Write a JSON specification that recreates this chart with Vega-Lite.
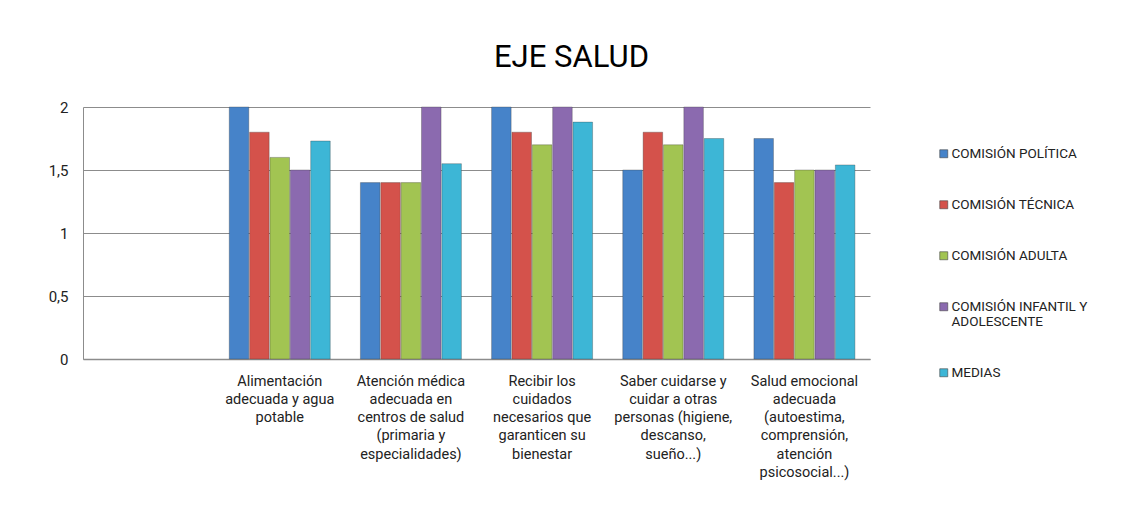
{
  "$schema": "https://vega.github.io/schema/vega-lite/v6.json",
  "width": 787,
  "height": 252,
  "autosize": {"type": "none"},
  "padding": {"left": 83, "top": 107, "right": 256, "bottom": 168},
  "background": "white",
  "title": {
    "text": "EJE SALUD",
    "font": "Roboto",
    "fontSize": 31,
    "fontWeight": "normal",
    "color": "#000000",
    "anchor": "middle",
    "dx": 95,
    "offset": 26
  },
  "data": {
    "values": [
      {"categoria": "Alimentación adecuada y agua potable", "serie": "COMISIÓN POLÍTICA", "valor": 2},
      {"categoria": "Alimentación adecuada y agua potable", "serie": "COMISIÓN TÉCNICA", "valor": 1.8},
      {"categoria": "Alimentación adecuada y agua potable", "serie": "COMISIÓN ADULTA", "valor": 1.6},
      {"categoria": "Alimentación adecuada y agua potable", "serie": "COMISIÓN INFANTIL Y ADOLESCENTE", "valor": 1.5},
      {"categoria": "Alimentación adecuada y agua potable", "serie": "MEDIAS", "valor": 1.73},
      {"categoria": "Atención médica adecuada en centros de salud (primaria y especialidades)", "serie": "COMISIÓN POLÍTICA", "valor": 1.4},
      {"categoria": "Atención médica adecuada en centros de salud (primaria y especialidades)", "serie": "COMISIÓN TÉCNICA", "valor": 1.4},
      {"categoria": "Atención médica adecuada en centros de salud (primaria y especialidades)", "serie": "COMISIÓN ADULTA", "valor": 1.4},
      {"categoria": "Atención médica adecuada en centros de salud (primaria y especialidades)", "serie": "COMISIÓN INFANTIL Y ADOLESCENTE", "valor": 2},
      {"categoria": "Atención médica adecuada en centros de salud (primaria y especialidades)", "serie": "MEDIAS", "valor": 1.55},
      {"categoria": "Recibir los cuidados necesarios que garanticen su bienestar", "serie": "COMISIÓN POLÍTICA", "valor": 2},
      {"categoria": "Recibir los cuidados necesarios que garanticen su bienestar", "serie": "COMISIÓN TÉCNICA", "valor": 1.8},
      {"categoria": "Recibir los cuidados necesarios que garanticen su bienestar", "serie": "COMISIÓN ADULTA", "valor": 1.7},
      {"categoria": "Recibir los cuidados necesarios que garanticen su bienestar", "serie": "COMISIÓN INFANTIL Y ADOLESCENTE", "valor": 2},
      {"categoria": "Recibir los cuidados necesarios que garanticen su bienestar", "serie": "MEDIAS", "valor": 1.88},
      {"categoria": "Saber cuidarse y cuidar a otras personas (higiene, descanso, sueño...)", "serie": "COMISIÓN POLÍTICA", "valor": 1.5},
      {"categoria": "Saber cuidarse y cuidar a otras personas (higiene, descanso, sueño...)", "serie": "COMISIÓN TÉCNICA", "valor": 1.8},
      {"categoria": "Saber cuidarse y cuidar a otras personas (higiene, descanso, sueño...)", "serie": "COMISIÓN ADULTA", "valor": 1.7},
      {"categoria": "Saber cuidarse y cuidar a otras personas (higiene, descanso, sueño...)", "serie": "COMISIÓN INFANTIL Y ADOLESCENTE", "valor": 2},
      {"categoria": "Saber cuidarse y cuidar a otras personas (higiene, descanso, sueño...)", "serie": "MEDIAS", "valor": 1.75},
      {"categoria": "Salud emocional adecuada (autoestima, comprensión, atención psicosocial...)", "serie": "COMISIÓN POLÍTICA", "valor": 1.75},
      {"categoria": "Salud emocional adecuada (autoestima, comprensión, atención psicosocial...)", "serie": "COMISIÓN TÉCNICA", "valor": 1.4},
      {"categoria": "Salud emocional adecuada (autoestima, comprensión, atención psicosocial...)", "serie": "COMISIÓN ADULTA", "valor": 1.5},
      {"categoria": "Salud emocional adecuada (autoestima, comprensión, atención psicosocial...)", "serie": "COMISIÓN INFANTIL Y ADOLESCENTE", "valor": 1.5},
      {"categoria": "Salud emocional adecuada (autoestima, comprensión, atención psicosocial...)", "serie": "MEDIAS", "valor": 1.54}
    ]
  },
  "mark": {"type": "bar", "stroke": "#3a3a3a", "strokeWidth": 0.6, "strokeOpacity": 0.55},
  "encoding": {
    "x": {
      "field": "categoria",
      "type": "nominal",
      "scale": {
        "domain": ["", "Alimentación adecuada y agua potable", "Atención médica adecuada en centros de salud (primaria y especialidades)", "Recibir los cuidados necesarios que garanticen su bienestar", "Saber cuidarse y cuidar a otras personas (higiene, descanso, sueño...)", "Salud emocional adecuada (autoestima, comprensión, atención psicosocial...)"],
        "paddingInner": 0.23,
        "paddingOuter": 0.115
      },
      "axis": {
        "title": null,
        "labelAngle": 0,
        "ticks": false,
        "grid": false,
        "domain": true,
        "domainColor": "#8c8c8c",
        "domainWidth": 1.5,
        "labelFont": "Roboto",
        "labelFontSize": 14.5,
        "labelColor": "#222222",
        "labelPadding": 15,
        "labelLineHeight": 18.3,
        "labelBaseline": "top",
        "labelLimit": 0,
        "labelExpr": "datum.value == '' ? '' : {'Alimentación adecuada y agua potable': ['Alimentación', 'adecuada y agua', 'potable'], 'Atención médica adecuada en centros de salud (primaria y especialidades)': ['Atención médica', 'adecuada en', 'centros de salud', '(primaria y', 'especialidades)'], 'Recibir los cuidados necesarios que garanticen su bienestar': ['Recibir los', 'cuidados', 'necesarios que', 'garanticen su', 'bienestar'], 'Saber cuidarse y cuidar a otras personas (higiene, descanso, sueño...)': ['Saber cuidarse y', 'cuidar a otras', 'personas (higiene,', 'descanso,', 'sueño...)'], 'Salud emocional adecuada (autoestima, comprensión, atención psicosocial...)': ['Salud emocional', 'adecuada', '(autoestima,', 'comprensión,', 'atención', 'psicosocial...)']}[datum.value]"
      }
    },
    "xOffset": {
      "field": "serie",
      "type": "nominal",
      "scale": {
        "domain": ["COMISIÓN POLÍTICA", "COMISIÓN TÉCNICA", "COMISIÓN ADULTA", "COMISIÓN INFANTIL Y ADOLESCENTE", "MEDIAS"],
        "paddingInner": 0.04
      }
    },
    "y": {
      "field": "valor",
      "type": "quantitative",
      "scale": {"domain": [0, 2], "nice": false},
      "axis": {
        "title": null,
        "values": [0, 0.5, 1, 1.5, 2],
        "ticks": false,
        "grid": true,
        "gridColor": "#8c8c8c",
        "gridWidth": 1,
        "domain": true,
        "domainColor": "#8c8c8c",
        "domainWidth": 1,
        "labelFont": "Roboto",
        "labelFontSize": 15,
        "labelColor": "#222222",
        "labelPadding": 15,
        "labelExpr": "replace(toString(datum.value), '.', ',')"
      }
    },
    "color": {
      "field": "serie",
      "type": "nominal",
      "scale": {
        "domain": ["COMISIÓN POLÍTICA", "COMISIÓN TÉCNICA", "COMISIÓN ADULTA", "COMISIÓN INFANTIL Y ADOLESCENTE", "MEDIAS"],
        "range": ["#4683C9", "#D4524B", "#A2C452", "#8B6AAF", "#3DB6D6"]
      },
      "legend": {
        "title": null,
        "orient": "none",
        "legendX": 854,
        "legendY": 40,
        "padding": 0,
        "symbolType": "square",
        "symbolSize": 64,
        "symbolStrokeWidth": 0.6,
        "symbolStrokeColor": "#444444",
        "labelFont": "Roboto",
        "labelFontSize": 13.5,
        "labelColor": "#222222",
        "labelOffset": 1,
        "labelLimit": 0,
        "rowPadding": 36,
        "labelExpr": "datum.label == 'COMISIÓN INFANTIL Y ADOLESCENTE' ? ['COMISIÓN INFANTIL Y', 'ADOLESCENTE'] : datum.label"
      }
    }
  },
  "config": {
    "view": {"stroke": null},
    "font": "Roboto"
  }
}
